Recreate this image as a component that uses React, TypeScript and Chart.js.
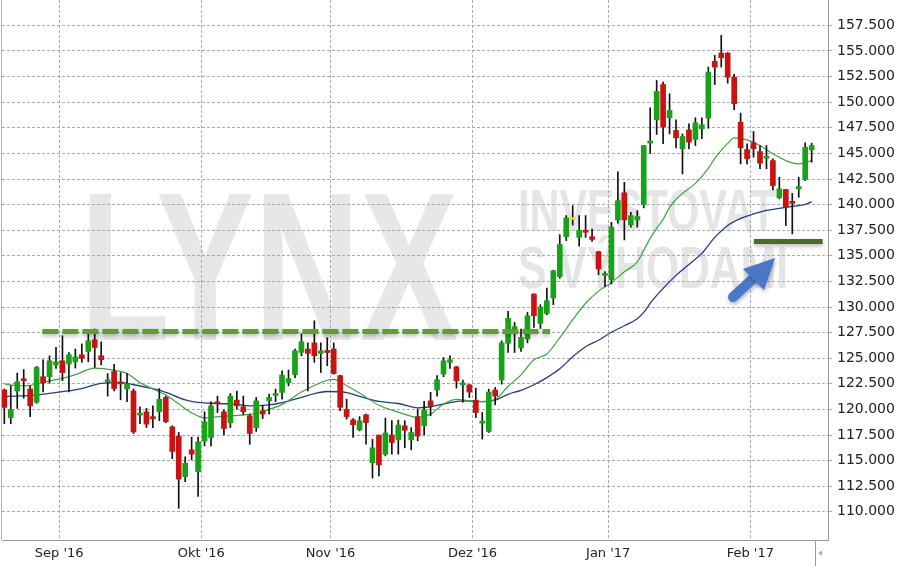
import React, { useEffect, useRef } from "react";
import { Chart, registerables } from "chart.js";

Chart.register(...registerables);

// ---- candle data (daily, mid Aug 2016 .. mid Feb 2017) ----
const opens = [
  121.9, 119.2, 121.8, 123.0, 122.0, 120.7, 123.2, 123.2, 124.36, 124.75,
  124.43, 124.65, 125.34, 125.66, 126.8, 125.24, 122.7, 123.7, 122.7, 122.0,
  121.8, 119.44, 119.77, 119.28, 119.77, 121.17, 118.3, 117.4, 113.44, 116.05,
  113.93, 116.93, 117.26, 120.68, 119.77, 118.7, 120.9, 120.26, 119.38, 118.23,
  119.87, 120.84, 121.37, 121.66, 122.63, 123.4, 125.56, 125.9, 126.5, 125.47,
  125.73, 125.9, 123.3, 120.0, 118.98, 118.0, 119.48, 114.8, 117.5, 115.63,
  117.5, 117.03, 118.4, 117.03, 119.28, 118.4, 120.84, 121.9, 123.45, 124.6,
  124.16, 122.4, 122.4, 120.9, 118.66, 117.85, 121.9, 122.87, 126.45, 127.52,
  126.0, 126.87, 131.27, 128.4, 129.38, 130.88, 132.96, 136.87, 138.55, 136.8,
  137.46, 136.87, 135.4, 133.09, 132.67, 138.5, 141.15, 138.02, 138.5, 140.0,
  146.0, 148.28, 151.73, 148.48, 147.24, 145.45, 147.3, 146.36, 147.4, 148.44,
  154.0, 154.8, 154.8, 152.45, 148.05, 145.38, 146.04, 145.18, 144.53, 144.3,
  140.66, 141.47, 140.3, 141.54, 142.45, 145.35,
];
const highs = [
  122.0, 122.3, 123.55, 123.9, 122.3, 124.2, 124.85, 125.24, 126.06, 127.2,
  125.56, 125.9, 126.4, 127.4, 127.85, 126.6, 123.5, 124.4, 123.6, 123.5,
  122.0, 120.26, 120.1, 120.36, 122.04, 121.3, 118.4, 117.75, 115.37, 117.3,
  117.3, 119.77, 120.75, 121.3, 119.96, 121.56, 121.8, 121.3, 119.54, 121.17,
  120.4, 121.5, 121.99, 123.78, 123.85, 125.9, 127.4, 126.5, 128.66, 126.5,
  127.0, 126.5, 123.35, 121.0, 119.1, 119.3, 119.54, 117.1, 117.5, 119.15,
  118.9, 118.96, 118.9, 118.23, 120.03, 120.8, 121.66, 123.3, 125.07, 125.24,
  124.2, 122.87, 122.45, 122.08, 119.7, 121.99, 122.15, 126.7, 129.57, 128.5,
  127.85, 129.47, 131.3, 130.23, 131.86, 133.6, 137.07, 138.93, 139.9, 138.93,
  138.93, 137.6, 135.45, 133.45, 138.27, 143.2, 142.18, 139.25, 139.42, 145.77,
  149.46, 152.12, 151.96, 150.82, 148.28, 146.9, 147.9, 148.48, 148.48, 153.43,
  154.57, 156.52, 154.85, 152.71, 148.93, 145.94, 147.14, 145.77, 145.77, 144.47,
  142.67, 141.5, 141.1, 142.67, 146.04, 146.0,
];
const lows = [
  118.6, 118.6, 120.1, 121.1, 119.3, 120.6, 121.7, 122.57, 124.0, 122.8,
  121.7, 124.04, 124.6, 124.66, 124.1, 124.36, 121.3, 121.8, 120.94, 120.75,
  117.65, 118.6, 118.23, 118.23, 118.9, 118.7, 115.2, 110.35, 112.95, 115.07,
  111.5, 116.44, 116.44, 119.7, 117.5, 118.23, 120.03, 119.5, 116.6, 117.85,
  119.1, 119.54, 120.75, 121.0, 122.3, 123.1, 125.24, 121.8, 124.6, 123.6,
  124.26, 123.45, 119.87, 119.05, 117.26, 117.9, 116.6, 113.3, 113.5, 115.47,
  115.63, 115.63, 116.25, 116.05, 116.93, 117.5, 119.38, 121.3, 123.2, 124.0,
  122.08, 120.7, 121.17, 119.2, 117.1, 117.75, 120.45, 122.47, 125.56, 125.56,
  125.66, 126.5, 128.0, 127.9, 129.25, 130.23, 132.8, 136.48, 138.0, 135.93,
  136.8, 136.4, 133.16, 131.99, 132.25, 138.18, 136.55, 137.8, 137.8, 139.68,
  145.0, 146.85, 145.94, 146.91, 145.54, 143.0, 145.45, 145.77, 146.43, 147.46,
  151.73, 153.43, 151.86, 149.26, 143.98, 143.98, 144.63, 143.5, 143.5, 141.44,
  140.56, 137.95, 137.14, 140.72, 142.35, 144.14,
];
const closes = [
  120.2, 120.0, 122.7, 122.8, 120.35, 124.1, 122.6, 124.75, 124.65, 123.6,
  125.34, 125.14, 124.98, 126.71, 126.05, 124.85, 122.9, 122.04, 122.5, 122.5,
  117.8, 119.6, 118.56, 119.1, 121.0, 118.8, 115.9, 113.2, 114.75, 115.63,
  116.84, 118.8, 120.35, 120.55, 118.14, 121.3, 120.35, 119.77, 117.65, 120.84,
  119.54, 121.17, 121.56, 123.35, 123.0, 125.73, 126.6, 125.47, 125.24, 125.73,
  125.56, 123.5, 120.2, 119.3, 118.5, 118.89, 118.72, 116.25, 114.6, 117.7,
  116.77, 118.47, 117.96, 117.75, 117.4, 119.96, 120.35, 122.9, 124.75, 124.85,
  122.8, 122.5, 121.7, 119.7, 118.8, 121.7, 121.3, 126.5, 128.9, 128.08,
  127.03, 129.15, 129.15, 130.0, 130.62, 133.55, 136.1, 138.7, 138.55, 137.5,
  137.3, 136.6, 133.72, 133.23, 137.8, 140.39, 138.5, 138.93, 138.83, 145.77,
  146.2, 151.05, 147.56, 149.19, 146.52, 146.65, 146.1, 147.99, 147.8, 152.94,
  153.43, 154.34, 152.45, 149.85, 145.54, 144.47, 145.45, 144.04, 144.7, 141.86,
  141.54, 139.74, 140.13, 141.76, 145.6, 145.77,
];

// ---- moving averages (candle index -> value) ----
const ma20Idx = [
  0, 2, 4, 7, 9, 11, 14, 17, 19, 21, 23, 25, 27, 29, 31, 34, 38, 40, 43, 46,
  48, 50, 51, 53, 55, 58, 61, 64, 66, 68, 70, 72, 74, 76, 78, 80, 82, 84, 86, 88,
  90, 92, 94, 96, 98, 99, 100, 101, 102, 103, 104, 105, 107, 109, 110, 111, 112, 113, 115, 117,
  119, 121, 123, 125,
];
const ma20 = [
  122.5, 122.31, 122.35, 122.78, 123.04, 123.4, 124.03, 123.83, 123.51, 122.63,
  121.99, 121.4, 120.55, 119.67, 119.16, 119.35, 119.51, 119.8, 120.49, 121.7,
  122.33, 122.85, 122.94, 122.31, 121.6, 120.4, 119.74, 119.23, 119.54, 120.53,
  120.99, 120.84, 120.77, 120.98, 122.26, 123.38, 124.85, 125.41, 127.0, 128.76,
  130.37, 131.55, 132.38, 133.45, 134.4, 135.53, 136.7, 137.68, 138.56, 139.73,
  140.51, 141.1, 142.07, 143.54, 144.52, 145.3, 145.98, 146.52, 146.32, 145.77,
  144.96, 144.3, 143.98, 144.3,
];
const ma50Idx = [
  0, 5, 9, 12, 15, 18, 20, 23, 25, 28, 30, 33, 36, 38, 41, 43, 46, 48, 50, 53,
  55, 58, 61, 64, 66, 68, 71, 74, 76, 78, 80, 82, 84, 86, 88, 90, 92, 94, 96, 98,
  99, 100, 101, 102, 104, 106, 108, 110, 112, 114, 116, 118, 120, 122, 124, 125,
];
const ma50 = [
  121.23, 121.43, 121.74, 122.04, 122.54, 122.62, 122.41, 122.02, 121.67, 120.94,
  120.69, 120.58, 120.5, 120.35, 120.45, 120.67, 121.18, 121.55, 121.75, 121.65,
  121.28, 120.78, 120.58, 120.16, 120.26, 120.53, 120.84, 120.77, 120.92, 121.48,
  121.87, 122.41, 123.11, 123.97, 125.14, 126.12, 126.76, 127.54, 128.17, 128.86,
  129.47, 130.35, 131.13, 131.82, 133.09, 134.16, 135.24, 136.8, 137.97, 138.66,
  139.1, 139.44, 139.63, 139.83, 140.02, 140.3,
];

// ---- annotation levels ----
const resistanceLevel = [127.61, 127.61];
const resistanceSpan = [5.9, 84.5];
const supportLevel = [136.4, 136.4];
const supportSpan = [116.05, 126.7];

// ---- axes ----
const monthLabels = ["Sep '16", "Okt '16", "Nov '16", "Dez '16", "Jan '17", "Feb '17"];
const monthStartIdx = [9, 31, 51, 73, 94, 116];
const yTickValues = [
  110, 112.5, 115, 117.5, 120, 122.5, 125, 127.5, 130, 132.5,
  135, 137.5, 140, 142.5, 145, 147.5, 150, 152.5, 155, 157.5,
];

const GREEN = "#17a317";
const RED = "#cc1111";
const DOJI = "#e4e400";

function fitText(ctx: CanvasRenderingContext2D, text: string, font: string, x: number, base: number, width: number) {
  ctx.font = font;
  const w = ctx.measureText(text).width;
  ctx.save();
  ctx.translate(x, base);
  ctx.scale(width / w, 1);
  ctx.fillText(text, 0, 0);
  ctx.restore();
}

const watermarkPlugin = {
  id: "watermark",
  beforeDraw(chart: any) {
    const ctx: CanvasRenderingContext2D = chart.ctx;
    ctx.save();
    ctx.textBaseline = "alphabetic";
    ctx.textAlign = "left";
    ctx.fillStyle = "#e7e7e7";
    fitText(ctx, "LYNX", 'bold 212px "Liberation Sans", Arial, sans-serif', 80, 340, 378);
    ctx.fillStyle = "#e5e5e5";
    fitText(ctx, "INVESTOVAT", 'bold 59px "Liberation Sans", Arial, sans-serif', 518, 231, 258);
    fitText(ctx, "S VÝHODAMI", 'bold 59px "Liberation Sans", Arial, sans-serif', 518, 288, 270);
    ctx.restore();
  },
};

const shadowPlugin = {
  id: "lineShadow",
  beforeDatasetDraw(chart: any, args: any) {
    if (args.index === 0 || args.index === 1) {
      const ctx = chart.ctx;
      ctx.save();
      ctx.shadowColor = "rgba(0,0,0,0.28)";
      ctx.shadowBlur = 4;
      ctx.shadowOffsetY = 2;
    }
  },
  afterDatasetDraw(chart: any, args: any) {
    if (args.index === 0 || args.index === 1) chart.ctx.restore();
  },
};

const overlayPlugin = {
  id: "overlay",
  afterDraw(chart: any) {
    const ctx: CanvasRenderingContext2D = chart.ctx;
    const a = chart.chartArea;
    ctx.save();
    // left frame line
    ctx.strokeStyle = "#b5b5b5";
    ctx.lineWidth = 1;
    ctx.beginPath();
    ctx.moveTo(a.left - 0.5, a.top);
    ctx.lineTo(a.left - 0.5, a.bottom);
    ctx.stroke();
    // small scroller marker under the axis
    ctx.strokeStyle = "#999";
    ctx.beginPath();
    ctx.moveTo(815.5, a.bottom);
    ctx.lineTo(815.5, 566);
    ctx.stroke();
    ctx.fillStyle = "#aaa";
    ctx.beginPath();
    ctx.moveTo(818, 553);
    ctx.lineTo(822, 550.5);
    ctx.lineTo(822, 555.5);
    ctx.closePath();
    ctx.fill();
    // blue arrow
    ctx.shadowColor = "rgba(10,20,60,0.35)";
    ctx.shadowBlur = 4;
    ctx.shadowOffsetX = 1;
    ctx.shadowOffsetY = 2;
    ctx.strokeStyle = "#4a78c8";
    ctx.fillStyle = "#4a78c8";
    ctx.lineWidth = 10;
    ctx.lineCap = "round";
    ctx.beginPath();
    ctx.moveTo(733, 297);
    ctx.lineTo(757, 275);
    ctx.stroke();
    ctx.beginPath();
    ctx.moveTo(743, 269);
    ctx.lineTo(775, 258);
    ctx.lineTo(764, 290);
    ctx.closePath();
    ctx.fill();
    ctx.restore();
  },
};

export default function App() {
  const ref = useRef<HTMLCanvasElement>(null);

  useEffect(() => {
    const canvas = ref.current;
    if (!canvas) return;

    const bodies = opens.map((o, i) => ({ x: i, y: [Math.min(o, closes[i]), Math.max(o, closes[i])] }));
    const wicks = lows.map((l, i) => ({ x: i, y: [l, highs[i]] }));
    const bodyColors = opens.map((o, i) => (closes[i] > o ? GREEN : closes[i] < o ? RED : DOJI));
    const ma20Pts = ma20Idx.map((x, i) => ({ x, y: ma20[i] }));
    const ma50Pts = ma50Idx.map((x, i) => ({ x, y: ma50[i] }));
    const resPts = resistanceSpan.map((x, i) => ({ x, y: resistanceLevel[i] }));
    const supPts = supportSpan.map((x, i) => ({ x, y: supportLevel[i] }));

    const xFont = { family: '"DejaVu Sans", Verdana, sans-serif', size: 13 };
    const yFont = { family: '"DejaVu Sans", Verdana, sans-serif', size: 14 };

    const chart = new Chart(canvas, {
      type: "bar",
      data: {
        datasets: [
          {
            type: "line",
            label: "resistance",
            data: resPts,
            borderColor: "#5e9e32",
            borderWidth: 5,
            borderDash: [16, 4],
            borderCapStyle: "butt",
            pointRadius: 0,
            order: 0,
          } as any,
          {
            type: "line",
            label: "support",
            data: supPts,
            borderColor: "#486f20",
            borderWidth: 5,
            pointRadius: 0,
            order: 0,
          } as any,
          {
            type: "bar",
            label: "body",
            data: bodies,
            backgroundColor: bodyColors,
            barThickness: 5,
            grouped: false,
            minBarLength: 2,
            order: 1,
          } as any,
          {
            type: "bar",
            label: "wick",
            data: wicks,
            backgroundColor: "#111111",
            barThickness: 1,
            grouped: false,
            order: 2,
          } as any,
          {
            type: "line",
            label: "MA 20",
            data: ma20Pts,
            borderColor: "#3aa63a",
            borderWidth: 1.2,
            pointRadius: 0,
            cubicInterpolationMode: "monotone",
            order: 3,
          } as any,
          {
            type: "line",
            label: "MA 50",
            data: ma50Pts,
            borderColor: "#1e3e8c",
            borderWidth: 1.3,
            pointRadius: 0,
            cubicInterpolationMode: "monotone",
            order: 3,
          } as any,
        ],
      },
      options: {
        animation: false,
        responsive: false,
        maintainAspectRatio: false,
        events: [],
        layout: { padding: { left: 2, top: 0, right: 0, bottom: 0 } },
        plugins: { legend: { display: false }, tooltip: { enabled: false } },
        scales: {
          x: {
            type: "linear",
            min: -0.36,
            max: 127.53,
            offset: false,
            grid: { color: "#aaaaaa", drawTicks: false, offset: false, lineWidth: 1 },
            border: { display: true, color: "#999999", dash: [3, 2] },
            ticks: {
              font: xFont,
              color: "#222",
              padding: 6,
              maxRotation: 0,
              autoSkip: false,
              callback: (_v: any, i: number) => monthLabels[i],
            },
            afterBuildTicks: (s: any) => {
              s.ticks = monthStartIdx.map((i) => ({ value: i - 0.5 }));
            },
            afterFit: (s: any) => {
              s.height = 26;
              s.paddingLeft = 0;
              s.paddingRight = 0;
            },
          },
          y: {
            type: "linear",
            position: "right",
            min: 107.25,
            max: 159.98,
            grid: { color: "#aaaaaa", drawTicks: true, tickLength: 4, lineWidth: 1 },
            border: { display: true, color: "#999999", dash: [3, 2] },
            ticks: {
              font: yFont,
              color: "#222",
              padding: 5,
              autoSkip: false,
              callback: (v: any) => Number(v).toFixed(3),
            },
            afterBuildTicks: (s: any) => {
              s.ticks = yTickValues.map((v) => ({ value: v }));
            },
            afterFit: (s: any) => {
              s.width = 79;
              s.paddingTop = 0;
              s.paddingBottom = 0;
            },
          },
        },
      } as any,
      plugins: [watermarkPlugin, shadowPlugin, overlayPlugin],
    });

    return () => chart.destroy();
  }, []);

  return (
    <div style={{ position: "absolute", left: 0, top: 0, width: 907, height: 566, background: "#fff" }}>
      <canvas ref={ref} width={907} height={566} style={{ display: "block", width: 907, height: 566 }} />
    </div>
  );
}
